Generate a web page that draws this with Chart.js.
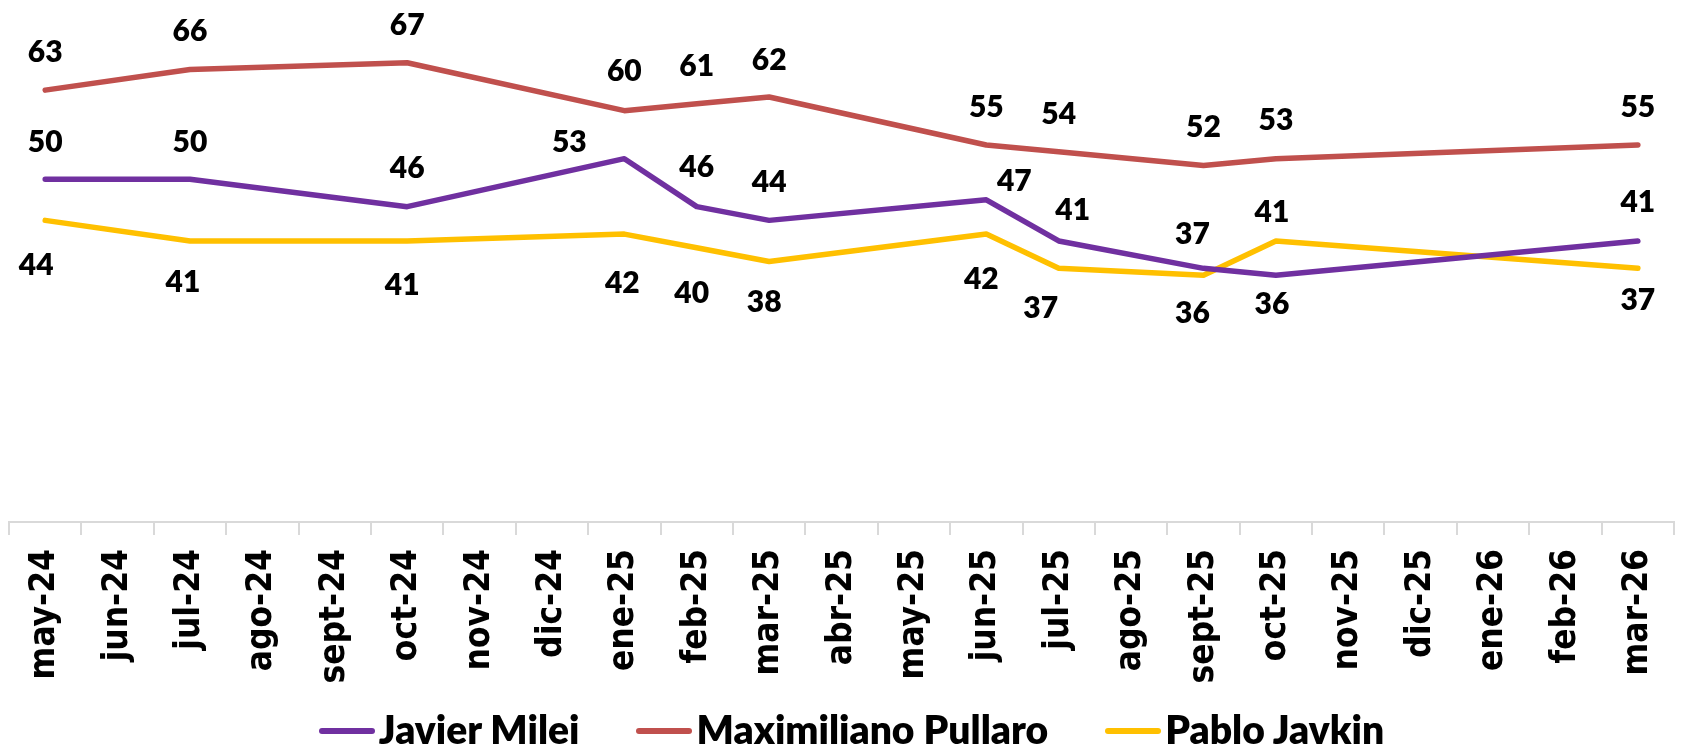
<!DOCTYPE html>
<html>
<head>
<meta charset="utf-8">
<script src="https://cdn.jsdelivr.net/npm/chart.js@4.4.1/dist/chart.umd.min.js"></script>
<style>
  html, body { margin: 0; padding: 0; background: #fff; }
  #wrap { position: relative; width: 1694px; height: 752px; overflow: hidden; background: #fff; }
  #c { position: absolute; left: 0; top: 0; }
  #legend { position: absolute; left: 9px; right: 0; top: 706px; height: 47px;
            display: flex; justify-content: center; align-items: center;
            font-family: Lato, "Open Sans", sans-serif; font-weight: 800; font-size: 39px;
            line-height: 47px; color: #000; white-space: nowrap; }
  .item { display: flex; align-items: center; margin-right: 57px; }
  .item:last-child { margin-right: 0; }
  .sw { width: 56px; height: 6px; border-radius: 3px; margin-right: 4px; position: relative; top: 1px; }
</style>
</head>
<body>
<div id="wrap">
  <canvas id="c" width="1694" height="752"></canvas>
  <div id="legend"></div>
</div>
<script>
// ---- data ----
const months = ["may-24","jun-24","jul-24","ago-24","sept-24","oct-24","nov-24","dic-24",
                "ene-25","feb-25","mar-25","abr-25","may-25","jun-25","jul-25","ago-25",
                "sept-25","oct-25","nov-25","dic-25","ene-26","feb-26","mar-26"];
const surveyMonths = ["may-24","jul-24","oct-24","ene-25","feb-25","mar-25",
                      "jun-25","jul-25","sept-25","oct-25","mar-26"];
const seriesNames = ["Javier Milei","Maximiliano Pullaro","Pablo Javkin"];
const milei   = [50, 50, 46, 53, 46, 44, 47, 41, 37, 36, 41];
const pullaro = [63, 66, 67, 60, 61, 62, 55, 54, 52, 53, 55];
const javkin  = [44, 41, 41, 42, 40, 38, 42, 37, 36, 41, 37];

// ---- label nudges (pixels) ----
const mileiLabelDx   = [0, 0, 0, -55, 0, 0, 28, 14, -11, -4, 0];
const mileiLabelDy   = [-38, -38, -39, -17, -40, -39, -20, -32, -35, 28, -40];
const pullaroLabelDx = [0, 0, 0, 0, 0, 0, 0, 0, 0, 0, 0];
const pullaroLabelDy = [-39, -39, -38, -40, -39, -38, -39, -39, -39, -39, -39];
const javkinLabelDx  = [-9, -7, -5, -2, -5, -5, -5, -18, -11, -4, 0];
const javkinLabelDy  = [44, 40, 43, 48, 44, 40, 44, 39, 37, -30, 31];

const colors = ["#7030A0", "#C0504D", "#FFC000"];

function expand(vals) {
  return months.map(m => {
    const k = surveyMonths.indexOf(m);
    return k < 0 ? null : vals[k];
  });
}
const seriesVals = [milei, pullaro, javkin];
const labelDx = [mileiLabelDx, pullaroLabelDx, javkinLabelDx];
const labelDy = [mileiLabelDy, pullaroLabelDy, javkinLabelDy];

const labelPlugin = {
  id: 'pointValueLabels',
  afterDatasetsDraw(chart) {
    const ctx = chart.ctx;
    ctx.save();
    ctx.font = '800 30px Lato, "Open Sans", sans-serif';
    ctx.fillStyle = '#000';
    ctx.textAlign = 'center';
    ctx.textBaseline = 'alphabetic';
    chart.data.datasets.forEach((ds, i) => {
      const meta = chart.getDatasetMeta(i);
      let k = 0;
      ds.data.forEach((v, j) => {
        if (v === null) return;
        const pt = meta.data[j];
        const x = pt.x + labelDx[i][k];
        const y = pt.y + labelDy[i][k] + 10.8;
        ctx.fillText(String(v), x, y);
        k++;
      });
    });
    ctx.restore();
  }
};

const datasets = seriesNames.map((name, i) => ({
  label: name,
  data: expand(seriesVals[i]),
  borderColor: colors[i],
  backgroundColor: colors[i],
  borderWidth: 5.5,
  borderCapStyle: 'round',
  borderJoinStyle: 'round',
  pointRadius: 0,
  pointHoverRadius: 0,
  tension: 0,
  spanGaps: true,
  fill: false
}));

new Chart(document.getElementById('c'), {
  type: 'line',
  data: { labels: months, datasets },
  options: {
    responsive: false,
    animation: false,
    layout: { padding: { left: 9, right: 6, top: 1, bottom: 0 } },
    plugins: { legend: { display: false }, tooltip: { enabled: false } },
    scales: {
      x: {
        offset: true,
        grid: { offset: true, drawOnChartArea: false, drawTicks: true, tickLength: 13,
                color: '#d9d9d9', lineWidth: 2 },
        border: { display: true, color: '#d9d9d9', width: 2 },
        ticks: { autoSkip: false, minRotation: 90, maxRotation: 90, padding: 14, color: '#000',
                 font: { family: '"DejaVu Sans Condensed", "DejaVu Sans", sans-serif', weight: 'bold', size: 35 } },
        afterFit(scale) { scale.height = 230; }
      },
      y: { display: false, min: 0, max: 76 }
    }
  },
  plugins: [labelPlugin]
});

// HTML legend
const leg = document.getElementById('legend');
seriesNames.forEach((name, i) => {
  const it = document.createElement('div');
  it.className = 'item';
  const sw = document.createElement('span');
  sw.className = 'sw';
  sw.style.background = colors[i];
  const tx = document.createElement('span');
  tx.textContent = name;
  it.appendChild(sw);
  it.appendChild(tx);
  leg.appendChild(it);
});
</script>
</body>
</html>
